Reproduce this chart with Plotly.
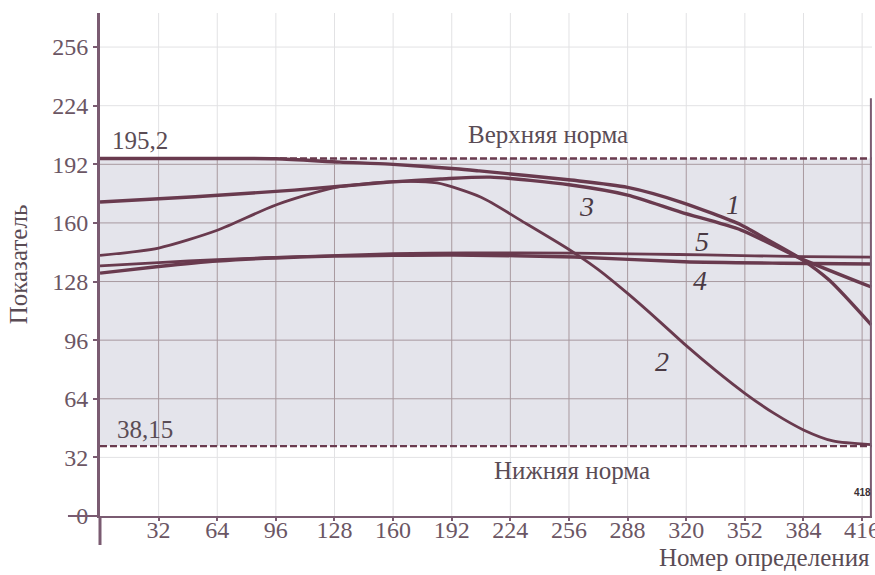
import plotly.graph_objects as go

# Норма показателя
upper_norm = 195.2
lower_norm = 38.15

# Деления осей
x_ticks = [32, 64, 96, 128, 160, 192, 224, 256, 288, 320, 352, 384, 416]
y_ticks = [0, 32, 64, 96, 128, 160, 192, 224, 256]
x_max = 421.4
y_max = 274.6

# Кривые 1–5 (номер определения -> показатель)
x1 = [0, 48, 96, 131, 158, 194, 207, 257, 288, 317, 350, 360, 382, 398, 421]
y1 = [195.2, 195.2, 195.0, 193.2, 192.1, 189.6, 188.4, 183.4, 179.4, 171.4, 158.9, 153.3, 140.8, 128.8, 104.3]

x2 = [0, 32, 64, 96, 128, 160, 184, 208, 232, 256, 272, 288, 304, 320, 336, 352, 368, 384, 400, 421]
y2 = [142.3, 146.3, 156.0, 169.8, 179.3, 182.5, 181.8, 174.0, 160.0, 145.5, 134.5, 121.5, 107.5, 93.0, 79.5, 67.0, 56.0, 47.0, 41.0, 39.0]

x3 = [0, 52, 106, 158, 186, 213, 257, 288, 317, 350, 382, 421]
y3 = [171.4, 174.3, 177.9, 182.3, 184.0, 185.0, 180.7, 175.2, 165.9, 156.1, 140.8, 125.0]

x4 = [0, 32, 64, 109, 160, 193, 259, 319, 372, 421]
y4 = [132.6, 136.2, 139.2, 141.4, 142.3, 142.5, 141.4, 138.8, 138.0, 137.6]

x5 = [0, 32, 64, 109, 160, 200, 259, 300, 330, 384, 421]
y5 = [136.5, 138.3, 140.0, 141.6, 143.2, 143.6, 143.5, 143.0, 142.5, 141.6, 141.3]

# Подписи кривых: номер, x, y
curve_labels = ["1", "2", "3", "4", "5"]
label_x = [345.5, 306.8, 265.3, 327.5, 328.6]
label_y = [170.3, 84.6, 168.7, 128.8, 150.1]

LINE = "#693a4e"
AXIS = "#7a5b71"
TEXT = "#6b5664"
GRID_LIGHT = "#e2e2e4"
GRID_DARK = "#a8999f"
BAND = "#e4e4eb"
SERIF = "Liberation Serif, Times New Roman, serif"

fig = go.Figure()

for xs, ys, w in [(x1, y1, 3.4), (x2, y2, 2.8), (x3, y3, 3.4), (x4, y4, 3.4), (x5, y5, 2.8)]:
    fig.add_trace(go.Scatter(
        x=xs, y=ys, mode="lines",
        line=dict(color=LINE, width=w, shape="spline", smoothing=0.7),
        hoverinfo="skip",
    ))

shapes = []
# светлая сетка по всему полю
for xv in x_ticks:
    shapes.append(dict(type="line", xref="x", yref="y", x0=xv, x1=xv, y0=0, y1=y_max,
                       line=dict(color=GRID_LIGHT, width=1), layer="below"))
for yv in y_ticks[1:]:
    shapes.append(dict(type="line", xref="x", yref="y", x0=0, x1=x_max, y0=yv, y1=yv,
                       line=dict(color=GRID_LIGHT, width=1), layer="below"))
# область нормы
shapes.append(dict(type="rect", xref="x", yref="y", x0=0, x1=x_max, y0=lower_norm, y1=upper_norm,
                   fillcolor=BAND, line=dict(width=0), layer="below"))
# сетка внутри области нормы
for xv in x_ticks:
    shapes.append(dict(type="line", xref="x", yref="y", x0=xv, x1=xv, y0=lower_norm, y1=upper_norm,
                       line=dict(color=GRID_DARK, width=1), layer="below"))
for yv in y_ticks:
    if lower_norm < yv < upper_norm:
        shapes.append(dict(type="line", xref="x", yref="y", x0=0, x1=x_max, y0=yv, y1=yv,
                           line=dict(color=GRID_DARK, width=1), layer="below"))
# границы нормы
for yv in (upper_norm, lower_norm):
    shapes.append(dict(type="line", xref="x", yref="y", x0=0, x1=x_max, y0=yv, y1=yv,
                       line=dict(color=LINE, width=2.4, dash="7px,3px"), layer="below"))
# правая граница поля
shapes.append(dict(type="line", xref="x", yref="y", x0=420.8, x1=420.8, y0=0, y1=228,
                   line=dict(color=AXIS, width=2), layer="above"))
# продолжения осей за начало координат
shapes.append(dict(type="line", xref="paper", yref="paper", x0=-0.0415, x1=0, y0=0, y1=0,
                   line=dict(color=AXIS, width=2), layer="above"))
shapes.append(dict(type="line", xref="paper", yref="paper", x0=0, x1=0, y0=-0.0577, y1=0,
                   line=dict(color=AXIS, width=3), layer="above"))

annotations = []
for t, lx, ly in zip(curve_labels, label_x, label_y):
    annotations.append(dict(x=lx, y=ly, xref="x", yref="y", text=f"<i>{t}</i>", showarrow=False,
                            font=dict(family=SERIF, size=28, color="#4a3a44")))

annotations += [
    dict(x=244.3, y=208.0, xref="x", yref="y", text="Верхняя норма", showarrow=False,
         font=dict(family=SERIF, size=25, color="#5a4c55")),
    dict(x=257.9, y=25.1, xref="x", yref="y", text="Нижняя норма", showarrow=False,
         font=dict(family=SERIF, size=25, color="#5a4c55")),
    dict(x=5.5, y=205.2, xref="x", yref="y", text="195,2", showarrow=False, xanchor="left",
         font=dict(family=SERIF, size=25, color="#5a4c55")),
    dict(x=8.2, y=47.0, xref="x", yref="y", text="38,15", showarrow=False, xanchor="left",
         font=dict(family=SERIF, size=25, color="#5a4c55")),
    dict(x=416, y=12.6, xref="x", yref="y", text="<b>418</b>", showarrow=False,
         font=dict(family="Liberation Sans, Arial, sans-serif", size=10, color="#3a3035")),
    dict(x=1.0, y=-0.083, xref="paper", yref="paper", text="Номер определения", showarrow=False,
         xanchor="right", yanchor="middle",
         font=dict(family=SERIF, size=25, color="#5a4c55")),
]

fig.update_layout(
    width=875, height=575,
    margin=dict(l=100, r=3, t=13, b=59),
    paper_bgcolor="white", plot_bgcolor="white",
    showlegend=False,
    shapes=shapes,
    annotations=annotations,
    xaxis=dict(
        range=[0, x_max], tickvals=x_ticks, ticktext=[str(v) for v in x_ticks],
        showgrid=False, zeroline=False, showline=True, linecolor=AXIS, linewidth=2,
        ticks="outside", ticklen=3, tickwidth=2, tickcolor=AXIS,
        ticklabelstandoff=-12, ticklabeloverflow="allow", automargin=False,
        tickfont=dict(family=SERIF, size=24, color=TEXT),
    ),
    yaxis=dict(
        range=[0, y_max], tickvals=y_ticks, ticktext=[str(v) for v in y_ticks],
        showgrid=False, zeroline=False, showline=True, linecolor=AXIS, linewidth=3,
        ticks="outside", ticklen=4, tickwidth=2, tickcolor=AXIS,
        tickfont=dict(family=SERIF, size=24, color=TEXT),
        title=dict(text="Показатель", standoff=18,
                   font=dict(family=SERIF, size=25, color="#5a4c55")),
    ),
)

fig.write_html("out.html")
